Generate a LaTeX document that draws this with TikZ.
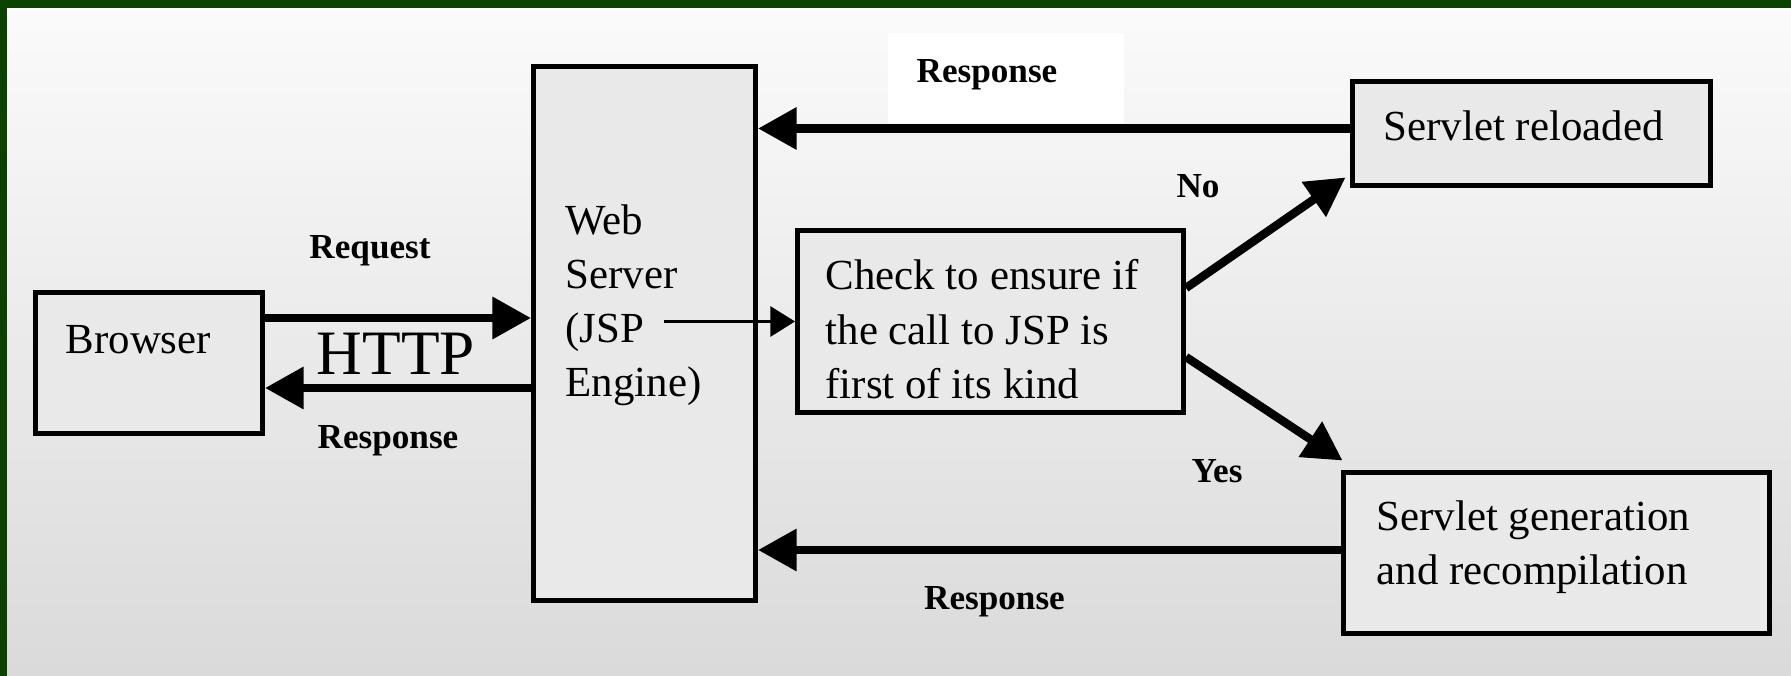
\documentclass[tikz,border=0pt]{standalone}
\usepackage{fontspec}
\setmainfont{Liberation Serif}
\usetikzlibrary{arrows.meta}
\definecolor{frame}{RGB}{12,66,0}
\definecolor{boxgray}{RGB}{233,233,233}
\definecolor{bgtop}{RGB}{251,251,251}
\definecolor{bgmid}{RGB}{236,236,236}
\definecolor{bgbot}{RGB}{218,218,218}

\begin{document}
\begin{tikzpicture}[
  box/.style={draw=black, line width=1.4pt, fill=boxgray},
  txt/.style={inner sep=0pt, align=left, anchor=north west, font=\fontsize{12.2}{15.4}\selectfont},
  lbl/.style={inner sep=0pt, font=\fontsize{10}{12}\selectfont\bfseries},
  bigarrow/.style={line width=2.4pt, -{Triangle[length=11pt,width=11.5pt]}},
  thinarrow/.style={line width=0.85pt, -{Triangle[length=7pt,width=8.5pt]}}
]
  \useasboundingbox (0,0) rectangle (17.91,6.76);

  %背景
  \shade[top color=bgtop, middle color=bgmid, bottom color=bgbot] (0,0) rectangle (17.91,6.76);
  \fill[frame] (0,6.68) rectangle (17.91,6.76);
  \fill[frame] (0,0) rectangle (0.07,6.76);
  \fill[white] (8.88,5.53) rectangle (11.24,6.43);

  %箱
  \node[box, minimum width=2.27cm, minimum height=1.41cm] (browser) at (1.49,3.13) {};
  \node[box, minimum width=2.22cm, minimum height=5.34cm] (web) at (6.445,3.425) {};
  \node[box, minimum width=3.86cm, minimum height=1.82cm] (check) at (9.905,3.545) {};
  \node[box, minimum width=3.58cm, minimum height=1.04cm] (reloaded) at (15.315,5.425) {};
  \node[box, minimum width=4.26cm, minimum height=1.61cm] (gen) at (15.565,1.23) {};

  %箱の中の文字
  \node[txt] (browsertxt) at (0.65,3.51) {Browser};
  \node[txt] (webtxt) at (5.65,4.72) {Web\\Server\\(JSP\\Engine)};
  \node[txt] (checktxt) at (8.25,4.17) {Check to ensure if\\the call to JSP is\\first of its kind};
  \node[txt] (reloadedtxt) at (13.83,5.66) {Servlet reloaded};
  \node[txt] (gentxt) at (13.76,1.76) {Servlet generation\\and recompilation};

  %矢印
  \coordinate (req) at ([yshift=0.45cm]browser.east);
  \draw[bigarrow] (req) -- (req -| web.west);
  \coordinate (res) at ([yshift=-0.25cm]browser.east);
  \draw[bigarrow] (res -| web.west) -- (res);
  \coordinate (jsp) at (6.64,3.545);
  \draw[thinarrow] (jsp) -- (check.west);
  \coordinate (rel) at ([yshift=0.05cm]reloaded.west);
  \draw[bigarrow] (rel) -- (rel -| web.east);
  \coordinate (gn) at ([yshift=0.03cm]gen.west);
  \draw[bigarrow] (gn) -- (gn -| web.east);
  \draw[bigarrow] ([yshift=0.335cm]check.east) -- ([xshift=-0.045cm,yshift=0.105cm]reloaded.south west);
  \draw[bigarrow] ([yshift=-0.355cm]check.east) -- ([xshift=0.015cm,yshift=0.095cm]gen.north west);

  %ラベル
  \node[lbl] (request) at (3.70,4.25) {Request};
  \node[inner sep=0pt, font=\fontsize{18}{20}\selectfont] (http) at (3.96,3.22) {HTTP};
  \node[lbl] (resp1) at (3.88,2.35) {Response};
  \node[lbl] (resp2) at (9.87,6.01) {Response};
  \node[lbl] (resp3) at (9.945,0.74) {Response};
  \node[lbl] (no) at (11.98,4.90) {No};
  \node[lbl] (yes) at (12.17,2.05) {Yes};
\end{tikzpicture}
\end{document}
